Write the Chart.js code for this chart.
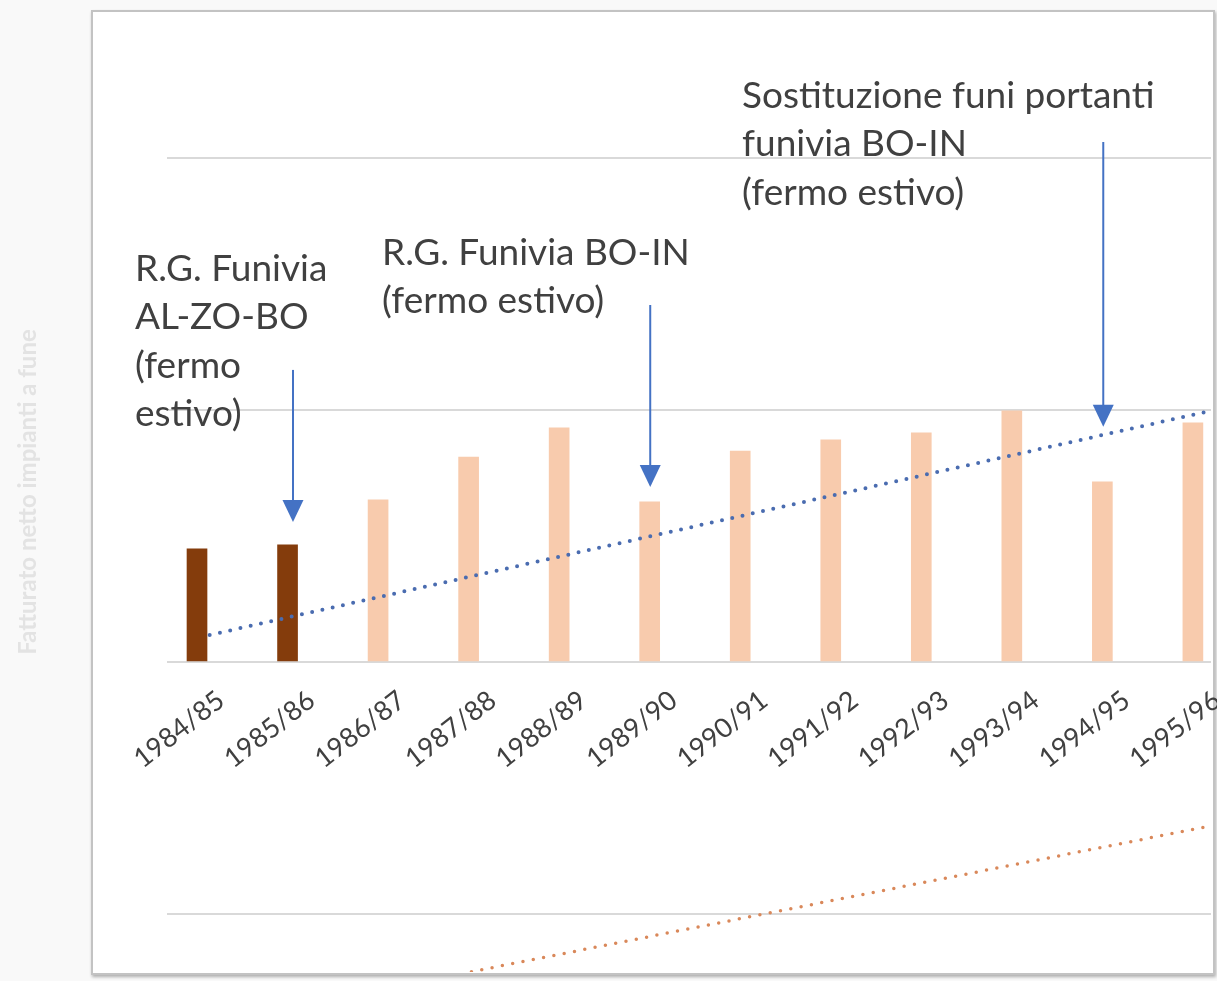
<!DOCTYPE html>
<html lang="it">
<head>
<meta charset="UTF-8">
<title>Fatturato netto impianti a fune</title>
<script src="https://cdn.jsdelivr.net/npm/chart.js@4.4.0/dist/chart.umd.min.js"></script>
<style>
    html, body { margin: 0; padding: 0; background: #f9f9f9; }
    body { width: 1217px; height: 981px; position: relative; overflow: hidden; }
    .frame {
        position: absolute; left: 91px; top: 10px;
        width: 1120px; height: 961px;
        background: #fff;
        border: 2px solid #c3c3c3;
        box-shadow: 1px 2px 3px rgba(0, 0, 0, 0.3);
    }
    #chart { position: absolute; left: 0; top: 0; }
</style>
</head>
<body>
<div class="frame"></div>
<canvas id="chart" width="1217" height="981"></canvas>

<script>
// seasons on the x axis
const seasons = ['1984/85', '1985/86', '1986/87', '1987/88', '1988/89', '1989/90',
                 '1990/91', '1991/92', '1992/93', '1993/94', '1994/95', '1995/96'];
// net revenue (one gridline = 10 units, no tick labels in the picture)
const revenue = [4.49, 4.65, 6.44, 8.14, 9.30, 6.36, 8.38, 8.82, 9.10, 9.97, 7.15, 9.50];
// seasons before the new management shown darker
const darkSeasons = 2;

// dotted trend lines, end points [index, value]
const trendBlue = [[0.14, 1.07], [11.19, 9.97]];
const trendOrange = [[2.69, -12.55], [11.19, -6.52]];

// notes: text anchor (index, value of first baseline) and arrow (index, from, to)
const notes = [
    { lines: ['R.G. Funivia', 'AL-ZO-BO', '(fermo', 'estivo)'], at: [-0.685, 15.14], arrow: [1.06, 11.6, 5.56] },
    { lines: ['R.G. Funivia BO-IN', '(fermo estivo)'], at: [2.044, 15.77], arrow: [5.006, 14.18, 6.95] },
    { lines: ['Sostituzione funi portanti', 'funivia BO-IN', '(fermo estivo)'], at: [6.02, 22.01], arrow: [10.01, 20.66, 9.34] }
];

const toXY = pts => pts.map(p => ({ x: p[0], y: p[1] }));

const seasonLabels = {
    id: 'seasonLabels',
    afterDraw(chart) {
        const { ctx, scales: { x, y } } = chart;
        const y0 = y.getPixelForValue(0);
        ctx.save();
        ctx.font = '27px Lato';
        ctx.fillStyle = '#404040';
        ctx.textAlign = 'right';
        ctx.textBaseline = 'middle';
        seasons.forEach((s, i) => {
            ctx.save();
            ctx.translate(x.getPixelForValue(i) + 24, y0 + 35);
            ctx.rotate(-38 * Math.PI / 180);
            ctx.fillText(s, 0, 0);
            ctx.restore();
        });
        ctx.restore();
    }
};

const noteArrows = {
    id: 'noteArrows',
    afterDraw(chart) {
        const { ctx, scales: { x, y } } = chart;
        ctx.save();
        notes.forEach(n => {
            // text
            ctx.font = '37px Lato';
            ctx.fillStyle = '#404040';
            ctx.textAlign = 'left';
            ctx.textBaseline = 'alphabetic';
            const tx = x.getPixelForValue(n.at[0]);
            const ty = y.getPixelForValue(n.at[1]);
            n.lines.forEach((l, k) => ctx.fillText(l, tx, ty + k * 48.5));

            // arrow
            const ax = x.getPixelForValue(n.arrow[0]);
            const top = y.getPixelForValue(n.arrow[1]);
            const tip = y.getPixelForValue(n.arrow[2]);
            ctx.strokeStyle = '#4472c4';
            ctx.fillStyle = '#4472c4';
            ctx.lineWidth = 2;
            ctx.beginPath();
            ctx.moveTo(ax, top);
            ctx.lineTo(ax, tip - 20);
            ctx.stroke();
            ctx.beginPath();
            ctx.moveTo(ax - 10.5, tip - 22);
            ctx.lineTo(ax + 10.5, tip - 22);
            ctx.lineTo(ax, tip);
            ctx.closePath();
            ctx.fill();
        });
        ctx.restore();
    }
};

function draw() {
    new Chart(document.getElementById('chart'), {
        type: 'bar',
        data: {
            datasets: [
                {
                    type: 'line',
                    data: toXY(trendBlue),
                    borderColor: '#4a6cb0',
                    borderWidth: 4,
                    borderDash: [0, 10.5],
                    borderCapStyle: 'round',
                    pointRadius: 0,
                    fill: false,
                    order: 1
                },
                {
                    type: 'line',
                    data: toXY(trendOrange),
                    borderColor: '#d9885a',
                    borderWidth: 3.5,
                    borderDash: [0, 10.5],
                    borderCapStyle: 'round',
                    pointRadius: 0,
                    fill: false,
                    order: 1
                },
                {
                    type: 'bar',
                    data: revenue.map((v, i) => ({ x: i, y: v })),
                    backgroundColor: revenue.map((v, i) => i < darkSeasons ? '#843c0c' : '#f8cbad'),
                    barThickness: 20,
                    order: 2
                }
            ]
        },
        options: {
            responsive: false,
            animation: false,
            layout: { padding: { left: 12, top: 12, right: 6, bottom: 9 } },
            plugins: {
                legend: { display: false },
                tooltip: { enabled: false }
            },
            scales: {
                x: {
                    type: 'linear',
                    display: false,
                    offset: false,
                    min: -0.3315,
                    max: 11.2
                },
                y: {
                    min: -12.32,
                    max: 25.82,
                    ticks: { display: false, stepSize: 10, includeBounds: false },
                    grid: { color: '#d9d9d9', lineWidth: 2, drawTicks: false },
                    border: { display: false },
                    title: {
                        display: true,
                        text: 'Fatturato netto impianti a fune',
                        color: '#e3e3e3',
                        font: { family: 'Lato', size: 24, weight: 'bold' },
                        padding: { top: 2, bottom: 2 }
                    },
                    afterFit(scale) { scale.width = 155; }
                }
            }
        },
        plugins: [seasonLabels, noteArrows]
    });
}

Promise.all([
    document.fonts.load('37px Lato'),
    document.fonts.load('bold 24px Lato')
]).then(draw, draw);
</script>
</body>
</html>
